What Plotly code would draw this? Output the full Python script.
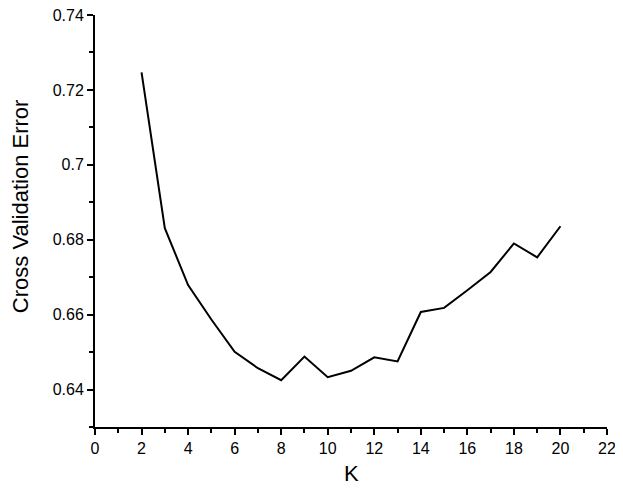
import plotly.graph_objects as go

# Cross validation error per number of clusters K
k_values = [2, 3, 4, 5, 6, 7, 8, 9, 10, 11, 12, 13, 14, 15, 16, 17, 18, 19, 20]
cv_error = [0.7247, 0.6831, 0.6679, 0.6587, 0.6501, 0.6457, 0.6425, 0.6488, 0.6433, 0.6450,
            0.6486, 0.6475, 0.6607, 0.6618, 0.6665, 0.6714, 0.6790, 0.6753, 0.6836]

fig = go.Figure(go.Scatter(
    x=k_values,
    y=cv_error,
    mode="lines",
    line=dict(color="black", width=2),
))

axis_style = dict(
    showline=True,
    linecolor="black",
    linewidth=2,
    ticks="outside",
    ticklen=6,
    tickwidth=2,
    tickcolor="black",
    showgrid=False,
    zeroline=False,
    automargin=False,
    ticklabeloverflow="allow",
    tickfont=dict(family="Liberation Sans, Arial", size=16, color="black"),
)

fig.update_xaxes(
    range=[0, 22], dtick=2, tick0=0,
    minor=dict(dtick=1, ticks="outside", ticklen=4, tickwidth=2, tickcolor="black"),
    **axis_style,
)
fig.update_yaxes(
    range=[0.63, 0.74], dtick=0.02, tick0=0.64,
    minor=dict(dtick=0.01, tick0=0.63, ticks="outside", ticklen=4, tickwidth=2, tickcolor="black"),
    **axis_style,
)

# axis titles placed by hand to match the original positions
title_font = dict(family="Liberation Sans, Arial", size=22, color="black")
fig.add_annotation(
    text="Cross Validation Error",
    xref="paper", yref="paper",
    x=-0.1465, y=0.536,
    textangle=-90,
    showarrow=False,
    xanchor="center", yanchor="middle",
    font=title_font,
)
fig.add_annotation(
    text="K",
    xref="paper", yref="paper",
    x=0.5, y=-0.112,
    showarrow=False,
    xanchor="center", yanchor="middle",
    font=title_font,
)

# page body adds an 8px margin, so the figure is a little smaller than the window
fig.update_layout(
    width=607,
    height=478,
    margin=dict(l=87, r=8, t=7, b=59),
    paper_bgcolor="white",
    plot_bgcolor="white",
    showlegend=False,
)

fig.write_html("out.html")
